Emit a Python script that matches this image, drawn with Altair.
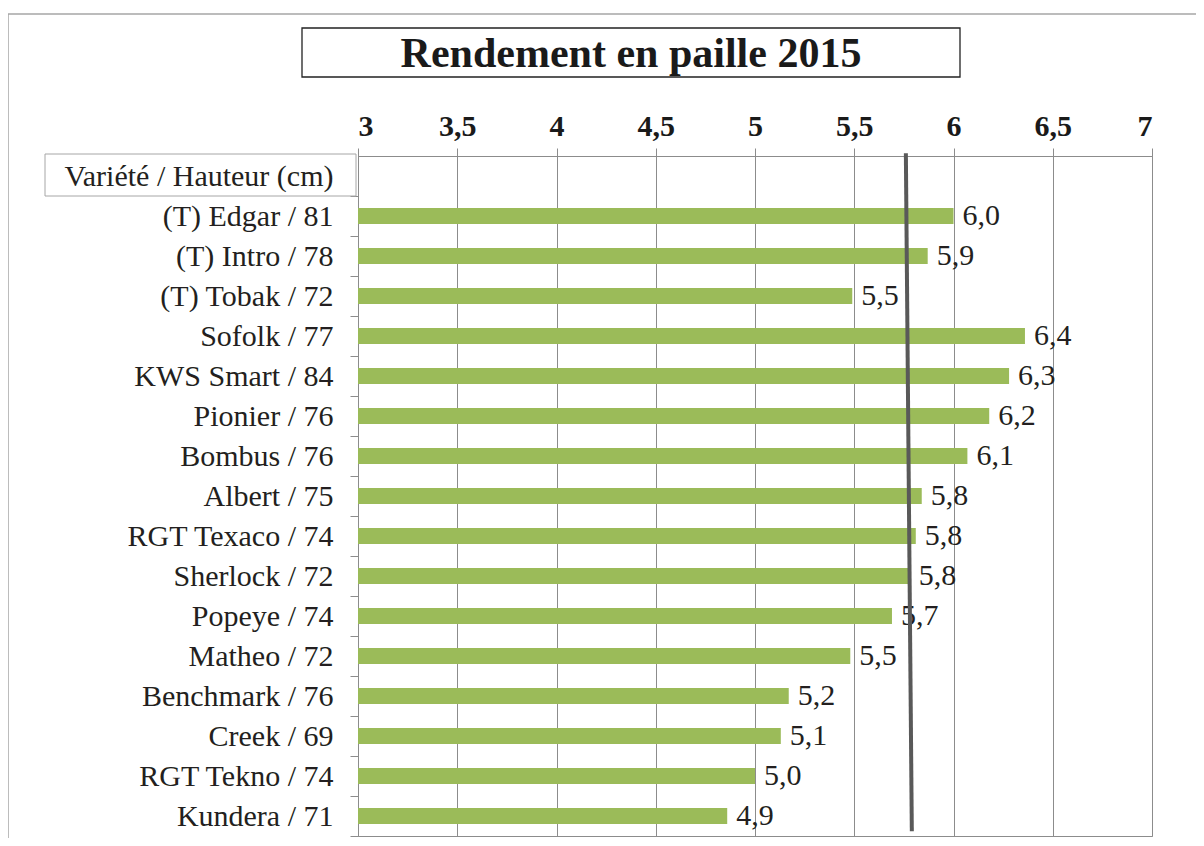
import altair as alt
import pandas as pd

title_text = "Rendement en paille 2015"
header = "Variété / Hauteur (cm)"
varieties = [
    "(T) Edgar / 81", "(T) Intro / 78", "(T) Tobak / 72", "Sofolk / 77",
    "KWS Smart / 84", "Pionier / 76", "Bombus / 76", "Albert / 75",
    "RGT Texaco / 74", "Sherlock / 72", "Popeye / 74", "Matheo / 72",
    "Benchmark / 76", "Creek / 69", "RGT Tekno / 74", "Kundera / 71",
]
values = [6.00, 5.87, 5.49, 6.36, 6.28, 6.18, 6.07, 5.84,
          5.81, 5.78, 5.69, 5.48, 5.17, 5.13, 5.00, 4.86]
x_ticks = [3, 3.5, 4, 4.5, 5, 5.5, 6, 6.5, 7]
mean_start = 5.76
mean_end = 5.79

FONT = "Liberation Serif"
GREEN = "#9BBB59"
GRID = "#8C8C8C"

df = pd.DataFrame({"variete": varieties, "valeur": values})
domain_y = [header] + varieties

xscale = alt.Scale(domain=[3, 7], nice=False, zero=False)
yscale = alt.Scale(domain=domain_y, paddingInner=0.6, paddingOuter=0.3)

base = alt.Chart(df)

bars = base.mark_bar(color=GREEN).encode(
    x=alt.X("valeur:Q", scale=xscale, title=None,
            axis=alt.Axis(orient="top", values=x_ticks,
                          labelExpr="replace(format(datum.value, '~g'), '.', ',')",
                          labelFont=FONT, labelFontSize=30, labelFontWeight="bold",
                          labelColor="#1a1a1a", labelPadding=7,
                          tickSize=8, tickColor=GRID, domainColor=GRID,
                          grid=True, gridColor=GRID, gridOpacity=1, gridWidth=1)),
    x2=alt.datum(3),
    y=alt.Y("variete:N", scale=yscale, sort=domain_y, title=None,
            axis=alt.Axis(orient="left", labelFont=FONT, labelFontSize=30,
                          labelColor="#231F20", labelPadding=17, tickSize=8,
                          tickColor=GRID, tickOffset=20, labelOffset=-20,
                          domainColor=GRID, grid=False, labelLimit=400)),
)

labels = base.transform_calculate(
    lab="replace(format(datum.valeur, '.1f'), '.', ',')"
).mark_text(align="left", baseline="middle", dx=9, font=FONT, fontSize=30,
            color="#231F20").encode(
    x=alt.X("valeur:Q", scale=xscale),
    y=alt.Y("variete:N", scale=yscale, sort=domain_y),
    text="lab:N",
)

mean_df = pd.DataFrame({"x": [mean_start], "x2": [mean_end], "y": [1.004], "y2": [0.007]})
mean_line = alt.Chart(mean_df).mark_rule(color="#595959", strokeWidth=4).encode(
    x=alt.X("x:Q", scale=xscale),
    x2="x2:Q",
    y=alt.Y("y:Q", scale=alt.Scale(domain=[0, 1]), axis=None),
    y2="y2:Q",
)

one = alt.Data(values=[{}])
outer = alt.Chart(one).mark_rect(fill=None, stroke="#A6A6A6", strokeWidth=1.5).encode(
    x=alt.value(-350), x2=alt.value(860), y=alt.value(-142), y2=alt.value(700))
title_box = alt.Chart(one).mark_rect(fill="white", stroke="#222222", strokeWidth=1.3).encode(
    x=alt.value(-56), x2=alt.value(602), y=alt.value(-128), y2=alt.value(-79))
title_mark = alt.Chart(one).mark_text(font=FONT, fontSize=42, fontWeight="bold",
                                      color="#1a1a1a", align="center", baseline="middle").encode(
    x=alt.value(273), y=alt.value(-102), text=alt.value(title_text))
header_box = alt.Chart(one).mark_rect(fill=None, stroke="#A6A6A6", strokeWidth=1).encode(
    x=alt.value(-313), x2=alt.value(-2), y=alt.value(-2), y2=alt.value(40))

main = alt.layer(bars, labels)
chart = alt.layer(outer, title_box, title_mark, header_box, main, mean_line).resolve_scale(
    y="independent"
).properties(
    width=794, height=680,
    autosize=alt.AutoSizeParams(type="none"),
    padding={"left": 350, "top": 148, "right": 44, "bottom": 2},
    background="white",
).configure_view(stroke=GRID, strokeWidth=1)

chart.save("out.html", embed_options={"renderer": "svg", "actions": False})
